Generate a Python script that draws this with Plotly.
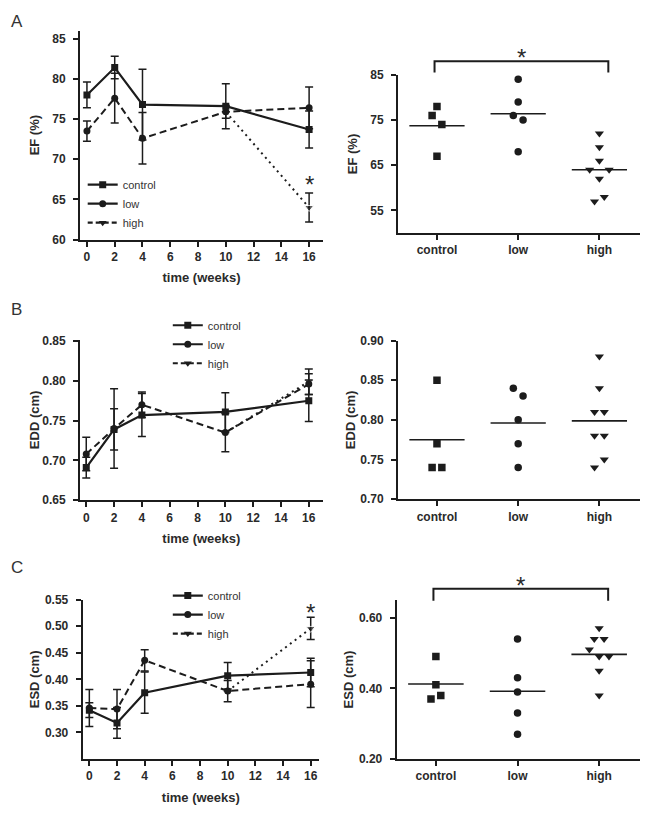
import plotly.graph_objects as go

# ---------------- data ----------------
weeks = [0, 2, 4, 10, 16]
weeks_high = [10, 16]
groups = ["control", "low", "high"]

# Panel A: EF (%)
ef_control = [78.0, 81.4, 76.8, 76.6, 73.7]
ef_control_sem = [1.6, 1.4, 4.4, 2.8, 2.3]
ef_low = [73.5, 77.6, 72.6, 75.9, 76.4]
ef_low_sem = [1.25, 3.1, 3.2, 0.8, 2.6]
ef_high = [75.9, 64.0]
ef_high_sem = [0, 1.8]
ef_ind_control = [78, 76, 74, 67]
ef_ind_low = [84, 79, 76, 75, 68]
ef_ind_high = [72, 69, 66, 64, 62, 64, 57, 58]

# Panel B: EDD (cm)
edd_control = [0.691, 0.739, 0.757, 0.761, 0.775]
edd_control_sem = [0.013, 0.026, 0.027, 0.024, 0.026]
edd_low = [0.708, 0.740, 0.770, 0.735, 0.796]
edd_low_sem = [0.021, 0.050, 0.016, 0.024, 0.013]
edd_high = [0.735, 0.799]
edd_high_sem = [0, 0.016]
edd_ind_control = [0.85, 0.77, 0.74, 0.74]
edd_ind_low = [0.84, 0.83, 0.80, 0.77, 0.74]
edd_ind_high = [0.88, 0.84, 0.81, 0.81, 0.78, 0.78, 0.74, 0.75]

# Panel C: ESD (cm)
esd_control = [0.342, 0.318, 0.375, 0.407, 0.413]
esd_control_sem = [0.014, 0.029, 0.039, 0.025, 0.027]
esd_low = [0.346, 0.344, 0.436, 0.378, 0.391]
esd_low_sem = [0.035, 0.037, 0.020, 0.020, 0.044]
esd_high = [0.378, 0.496]
esd_high_sem = [0, 0.021]
esd_ind_control = [0.49, 0.41, 0.37, 0.38]
esd_ind_low = [0.54, 0.43, 0.39, 0.33, 0.27]
esd_ind_high = [0.57, 0.54, 0.54, 0.51, 0.49, 0.49, 0.45, 0.38]

# ---------------- style ----------------
W, H = 651, 824
INK = "#1c1c1c"
TXT = "#2a2a2a"
FONT = "Liberation Sans"
SYM = {"control": "square", "low": "circle", "high": "triangle-down"}


def xd(a, b):
    return [a / W, b / W]


def yd(top, bottom):
    return [1 - bottom / H, 1 - top / H]


panels = {
    1: dict(x=(80, 323), y=(24, 236.7), xr=[-0.5, 17], yr=[60, 86]),
    2: dict(x=(398, 640), y=(69, 230), xr=[-0.48, 2.5], yr=[50, 85]),
    3: dict(x=(80, 322.7), y=(338.3, 501.7), xr=[-0.45, 17], yr=[0.65, 0.852]),
    4: dict(x=(398, 640), y=(339.3, 500.7), xr=[-0.48, 2.5], yr=[0.70, 0.90]),
    5: dict(x=(82.7, 319), y=(603, 765), xr=[-0.48, 16.6], yr=[0.25, 0.55]),
    6: dict(x=(396.7, 640), y=(603.3, 765), xr=[-0.48, 2.5], yr=[0.20, 0.65]),
}

fig = go.Figure()


def ax_names(n):
    return ("x" if n == 1 else f"x{n}"), ("y" if n == 1 else f"y{n}")


def line_panel(n, ctrl, ctrl_sem, low, low_sem, high, high_sem):
    xa, ya = ax_names(n)
    eb = lambda arr: dict(type="data", array=arr, color=INK, thickness=1.5, width=4)
    fig.add_trace(go.Scatter(
        x=weeks_high, y=high, xaxis=xa, yaxis=ya, mode="lines+markers",
        line=dict(color=INK, width=2, dash="2px,4px"),
        marker=dict(symbol="triangle-down", size=[0, 8], color=INK),
        error_y=eb(high_sem), showlegend=False, name="high"))
    fig.add_trace(go.Scatter(
        x=weeks, y=low, xaxis=xa, yaxis=ya, mode="lines+markers",
        line=dict(color=INK, width=2, dash="7px,4px"),
        marker=dict(symbol="circle", size=7, color=INK),
        error_y=eb(low_sem), showlegend=False, name="low"))
    fig.add_trace(go.Scatter(
        x=weeks, y=ctrl, xaxis=xa, yaxis=ya, mode="lines+markers",
        line=dict(color=INK, width=2.2),
        marker=dict(symbol="square", size=7, color=INK),
        error_y=eb(ctrl_sem), showlegend=False, name="control"))


def legend_entries(legend_id, xa, ya):
    styles = {"control": "solid", "low": "solid", "high": "5px,3px"}
    for g in groups:
        fig.add_trace(go.Scatter(
            x=[None], y=[None], xaxis=xa, yaxis=ya, mode="lines+markers", name=g,
            line=dict(color=INK, width=2.2, dash=styles[g]),
            marker=dict(symbol=SYM[g], size=7, color=INK),
            legend=legend_id, showlegend=True))


def swarm_offsets(vals, yr, frac=0.059, step=0.12):
    thr = frac * (yr[1] - yr[0])
    order = sorted(range(len(vals)), key=lambda i: vals[i])
    offsets = [0.0] * len(vals)
    clusters, cur = [], []
    for i in order:
        if cur and vals[i] - vals[cur[0]] > thr:
            clusters.append(cur)
            cur = []
        cur.append(i)
    if cur:
        clusters.append(cur)
    for c in clusters:
        c = sorted(c)  # list order
        k = len(c)
        for j, i in enumerate(c):
            offsets[i] = (j - (k - 1) / 2) * step
    return offsets


def dot_panel(n, series):
    xa, ya = ax_names(n)
    yr = panels[n]["yr"]
    for gi, (g, vals) in enumerate(zip(groups, series)):
        offs = swarm_offsets(vals, yr)
        fig.add_trace(go.Scatter(
            x=[gi + o for o in offs], y=vals, xaxis=xa, yaxis=ya, mode="markers",
            marker=dict(symbol=SYM[g], size=7.5 if g != "high" else 8, color=INK),
            showlegend=False, name=g))
        m = sum(vals) / len(vals)
        fig.add_trace(go.Scatter(
            x=[gi - 0.34, gi + 0.34], y=[m, m], xaxis=xa, yaxis=ya, mode="lines",
            line=dict(color=INK, width=1.6), showlegend=False, hoverinfo="skip"))


line_panel(1, ef_control, ef_control_sem, ef_low, ef_low_sem, ef_high, ef_high_sem)
line_panel(3, edd_control, edd_control_sem, edd_low, edd_low_sem, edd_high, edd_high_sem)
line_panel(5, esd_control, esd_control_sem, esd_low, esd_low_sem, esd_high, esd_high_sem)
dot_panel(2, [ef_ind_control, ef_ind_low, ef_ind_high])
dot_panel(4, [edd_ind_control, edd_ind_low, edd_ind_high])
dot_panel(6, [esd_ind_control, esd_ind_low, esd_ind_high])
legend_entries("legend", "x", "y")
legend_entries("legend2", "x3", "y3")
legend_entries("legend3", "x5", "y5")

# ---------------- axes ----------------
tickfont = dict(family=FONT, size=12, color=TXT, weight="bold")
titlefont = dict(family=FONT, size=13, color=TXT, weight="bold")
ytitles = {1: "EF (%)", 2: "EF (%)", 3: "EDD (cm)", 4: "EDD (cm)", 5: "ESD (cm)", 6: "ESD (cm)"}
yticks = {
    1: [60, 65, 70, 75, 80, 85],
    2: [55, 65, 75, 85],
    3: [0.65, 0.70, 0.75, 0.80, 0.85],
    4: [0.70, 0.75, 0.80, 0.85, 0.90],
    5: [0.30, 0.35, 0.40, 0.45, 0.50, 0.55],
    6: [0.20, 0.40, 0.60],
}
ystand = {1: 10, 2: 10, 3: 0, 4: 2, 5: 2, 6: 2}
layout = {}
for n, p in panels.items():
    xa, ya = ax_names(n)
    xk = "xaxis" if n == 1 else f"xaxis{n}"
    yk = "yaxis" if n == 1 else f"yaxis{n}"
    common = dict(showline=True, linewidth=2, linecolor=INK, ticks="outside",
                  ticklen=5, tickwidth=1.5, tickcolor=INK, showgrid=False,
                  zeroline=False, tickfont=tickfont)
    if n % 2 == 1:
        xextra = dict(tickvals=list(range(0, 17, 2)),
                      title=dict(text="time (weeks)", font=titlefont, standoff=10))
    else:
        xextra = dict(tickvals=[0, 1, 2], ticktext=groups)
    layout[xk] = dict(domain=xd(*p["x"]), range=p["xr"], anchor=ya, **common, **xextra)
    fmt = "d" if n <= 2 else ".2f"
    layout[yk] = dict(domain=yd(*p["y"]), range=p["yr"], anchor=xa, tickvals=yticks[n],
                      tickformat=fmt, ticklabelstandoff=5,
                      title=dict(text=ytitles[n], font=titlefont, standoff=ystand[n]),
                      **common)


def frac(v, r):
    return (v - r[0]) / (r[1] - r[0])


shapes = []
annotations = []
star = dict(text="*", showarrow=False, font=dict(family=FONT, size=24, color=TXT),
            xanchor="center", yanchor="middle")
# significance brackets (right panels A and C)
for n, ytop, ybot, ystar in [(2, 88.0, 85.5, 90.2), (6, 0.682, 0.648, 0.709)]:
    xr, yr = panels[n]["xr"], panels[n]["yr"]
    xa, ya = ax_names(n)
    x0, x1 = frac(-0.03, xr), frac(2.11, xr)
    yt, yb = frac(ytop, yr), frac(ybot, yr)
    shapes.append(dict(type="path", xref=f"{xa} domain", yref=f"{ya} domain",
                       path=f"M{x0},{yb} L{x0},{yt} L{x1},{yt} L{x1},{yb}",
                       line=dict(color=INK, width=2)))
    annotations.append(dict(x=frac(1.04, xr), y=frac(ystar, yr), xref=f"{xa} domain",
                            yref=f"{ya} domain", yshift=-6, **star))

annotations += [
    dict(x=16, y=67.6, xref="x", yref="y", yshift=-6, **star),
    dict(x=16, y=0.5376, xref="x5", yref="y5", yshift=-6, **star),
]
for letter, (px, py) in {"A": (16.7, 15), "B": (16, 308), "C": (16.7, 570)}.items():
    annotations.append(dict(text=letter, x=px / W, y=1 - py / H, xref="paper", yref="paper",
                            showarrow=False, xanchor="center", yanchor="middle",
                            font=dict(family=FONT, size=17, color="#333")))

legfont = dict(family=FONT, size=11, color="#333")


def leg(mx, top):
    return dict(x=(mx - 20) / W, y=1 - top / H, xanchor="left", yanchor="top",
                bgcolor="rgba(0,0,0,0)", font=legfont, itemwidth=30,
                tracegroupgap=0)


layout.update(
    width=W, height=H, margin=dict(l=0, r=0, t=0, b=0),
    paper_bgcolor="white", plot_bgcolor="white",
    font=dict(family=FONT, color=TXT),
    shapes=shapes, annotations=annotations,
    legend=leg(102.7, 166), legend2=leg(187.8, 309), legend3=leg(187.8, 584),
)
fig.update_layout(**layout)
fig.write_html(
    "out.html",
    config={"displayModeBar": False},
    post_script=("document.documentElement.style.margin='0';"
                 "document.body.style.margin='0';"
                 "document.body.style.overflow='hidden';"
                 "document.documentElement.style.overflow='hidden';"),
)
